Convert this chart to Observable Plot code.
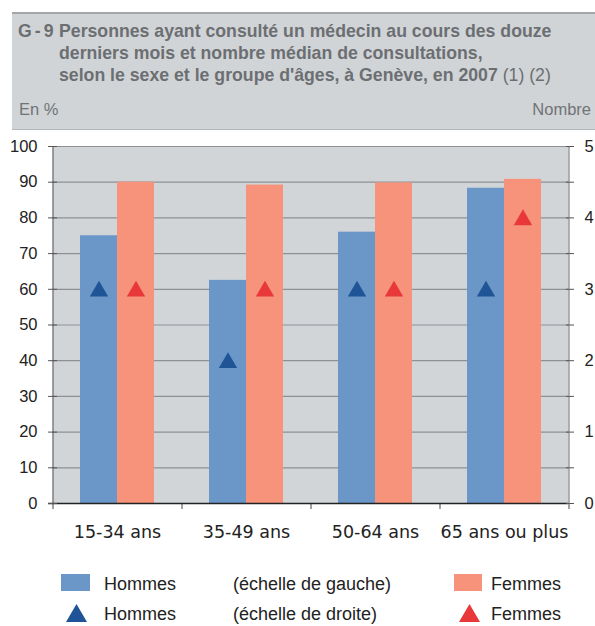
<!DOCTYPE html>
<html>
<head>
<meta charset="utf-8">
<script src="https://cdn.jsdelivr.net/npm/d3@7"></script>
<script src="https://cdn.jsdelivr.net/npm/@observablehq/plot@0.6"></script>
<style>
  html, body { margin: 0; padding: 0; background: #fff; }
  body { width: 595px; height: 626px; position: relative; overflow: hidden; font-family: "Liberation Sans", Arial, sans-serif; }
  #header { position: absolute; left: 12px; top: 12px; width: 583px; height: 115px; background: #d1d4d7; border-top: 2px solid #a4a7aa; border-bottom: 1px solid #b4b7ba; }
  .t { position: absolute; font-size: 17.7px; line-height: 22px; font-weight: bold; color: #6c6f72; white-space: nowrap; }
  .sub { position: absolute; font-size: 16.5px; line-height: 22px; color: #707376; white-space: nowrap; }
  #chart { position: absolute; left: 0; top: 130px; }
  .lg { position: absolute; font-size: 18px; line-height: 22px; color: #222; white-space: nowrap; }
  .sw { position: absolute; }
</style>
</head>
<body>
<div id="header"></div>
<div class="t" style="left:18px; top:20px; letter-spacing:3px;">G-9</div>
<div class="t" style="left:59px; top:20px;">Personnes ayant consulté un médecin au cours des douze</div>
<div class="t" style="left:59px; top:42px;">derniers mois et nombre médian de consultations,</div>
<div class="t" style="left:59px; top:64px;">selon le sexe et le groupe d'âges, à Genève, en 2007 <span style="font-weight:normal">(1) (2)</span></div>
<div class="sub" style="left:19px; top:98px;">En %</div>
<div class="sub" style="right:4px; top:98px;">Nombre</div>
<div id="chart"></div>
<div id="legend"></div>
<script>
// ---- data ----
const ages = ["15-34 ans", "35-49 ans", "50-64 ans", "65 ans ou plus"];
const hommesPct = [75, 62.5, 76, 88.3];
const femmesPct = [90, 89.2, 89.8, 90.8];
const hommesNb = [3, 2, 3, 3];
const femmesNb = [3, 3, 3, 4];
const leftTicks = [0, 10, 20, 30, 40, 50, 60, 70, 80, 90, 100];
const rightTicks = [0, 1, 2, 3, 4, 5];
const rightMinorTicks = [0, 0.5, 1, 1.5, 2, 2.5, 3, 3.5, 4, 4.5, 5];
const legendLabels = ["Hommes", "Femmes"];
const legendScales = ["(échelle de gauche)", "(échelle de droite)"];

// ---- styles ----
const colHommesBar = "#6a96c8", colFemmesBar = "#f6937a";
const colHommesTri = "#1f5596", colFemmesTri = "#e8383a";

const W = 595, H = 430, mt = 16, mb = 57, ml = 52, mr = 27;
const step = (W - ml - mr) / ages.length;
const halfBar = 37;
const ratio = 100 / 5; // left scale / right scale

const data = ages.map((a, i) => ({
  age: a, hommes: hommesPct[i], femmes: femmesPct[i],
  hNb: hommesNb[i], fNb: femmesNb[i]
}));
const lastAge = [ages[ages.length - 1]];

const chart = Plot.plot({
  width: W, height: H,
  marginTop: mt, marginBottom: mb, marginLeft: ml, marginRight: mr,
  style: { fontFamily: "Liberation Sans, Arial, sans-serif", fontSize: "16.5px", color: "#222", background: "transparent" },
  x: { domain: ages, paddingInner: 1 - 2 * halfBar / step, paddingOuter: (1 - 2 * halfBar / step) / 2, axis: null },
  y: { domain: [0, 100], axis: null },
  marks: [
    Plot.frame({ fill: "#d1d5d8", stroke: null }),
    Plot.gridY(leftTicks, { stroke: "#8e9093", strokeOpacity: 1, strokeWidth: 1.2 }),
    Plot.barY(data, { x: "age", y: "hommes", fill: colHommesBar, insetRight: halfBar }),
    Plot.barY(data, { x: "age", y: "femmes", fill: colFemmesBar, insetLeft: halfBar }),
    Plot.dot(data, { x: "age", y: d => d.hNb * ratio, symbol: "triangle", r: 6.8, fill: colHommesTri, dx: -halfBar / 2, dy: 2 }),
    Plot.dot(data, { x: "age", y: d => d.fNb * ratio, symbol: "triangle", r: 6.8, fill: colFemmesTri, dx: halfBar / 2, dy: 2 }),
    // category boundary ticks below the axis
    Plot.ruleX(ages, { x: d => d, y1: 0, y2: 0, insetBottom: -6, dx: -step / 2, stroke: "#444" }),
    Plot.ruleX(lastAge, { x: d => d, y1: 0, y2: 0, insetBottom: -6, dx: step / 2, stroke: "#444" }),
    // left and right vertical axis lines
    Plot.ruleX([ages[0]], { x: d => d, y1: 0, y2: 100, dx: -step / 2, stroke: "#555" }),
    Plot.ruleX(lastAge, { x: d => d, y1: 0, y2: 100, dx: step / 2, stroke: "#6a6c6f" }),
    // bottom axis line
    Plot.ruleY([0], { stroke: "#222", strokeWidth: 1.3, insetLeft: -4 }),
    // left axis ticks and labels
    Plot.axisY(leftTicks, { anchor: "left", tickSize: 9, dx: 5, stroke: "#555", tickFormat: () => "", label: null }),
    Plot.axisY(leftTicks, { anchor: "left", tickSize: 0, tickPadding: 15, fontSize: 16.5, fill: "#222", label: null }),
    // right axis ticks and labels
    Plot.axisY(rightMinorTicks.map(v => v * ratio), { anchor: "right", tickSize: 8, dx: -3, stroke: "#555", tickFormat: () => "", label: null }),
    Plot.axisY(rightTicks.map(v => v * ratio), { anchor: "right", tickSize: 0, tickPadding: 16, fontSize: 16.5, fill: "#222", tickFormat: d => String(d / ratio), label: null }),
    // category labels
    Plot.axisX({ tickSize: 0, tickPadding: 22, fontSize: 17.5, fontFamily: "DejaVu Sans, Verdana, sans-serif", fill: "#222", label: null })
  ]
});
document.getElementById("chart").appendChild(chart);

// ---- legend (HTML) ----
const lg = document.getElementById("legend");
function add(html) { lg.insertAdjacentHTML("beforeend", html); }
// row 1: bars
add(`<div class="sw" style="left:61px; top:574px; width:29px; height:17px; background:${colHommesBar}"></div>`);
add(`<div class="lg" style="left:104px; top:573px;">${legendLabels[0]}</div>`);
add(`<div class="lg" style="left:233px; top:573px;">${legendScales[0]}</div>`);
add(`<div class="sw" style="left:454px; top:574px; width:28px; height:17px; background:${colFemmesBar}"></div>`);
add(`<div class="lg" style="left:491px; top:573px;">${legendLabels[1]}</div>`);
// row 2: triangles
add(`<svg class="sw" style="left:66px; top:604px;" width="21" height="18"><polygon points="10.5,0 21,18 0,18" fill="${colHommesTri}"/></svg>`);
add(`<div class="lg" style="left:104px; top:603px;">${legendLabels[0]}</div>`);
add(`<div class="lg" style="left:233px; top:603px;">${legendScales[1]}</div>`);
add(`<svg class="sw" style="left:459px; top:604px;" width="21" height="18"><polygon points="10.5,0 21,18 0,18" fill="${colFemmesTri}"/></svg>`);
add(`<div class="lg" style="left:491px; top:603px;">${legendLabels[1]}</div>`);
</script>
</body>
</html>
